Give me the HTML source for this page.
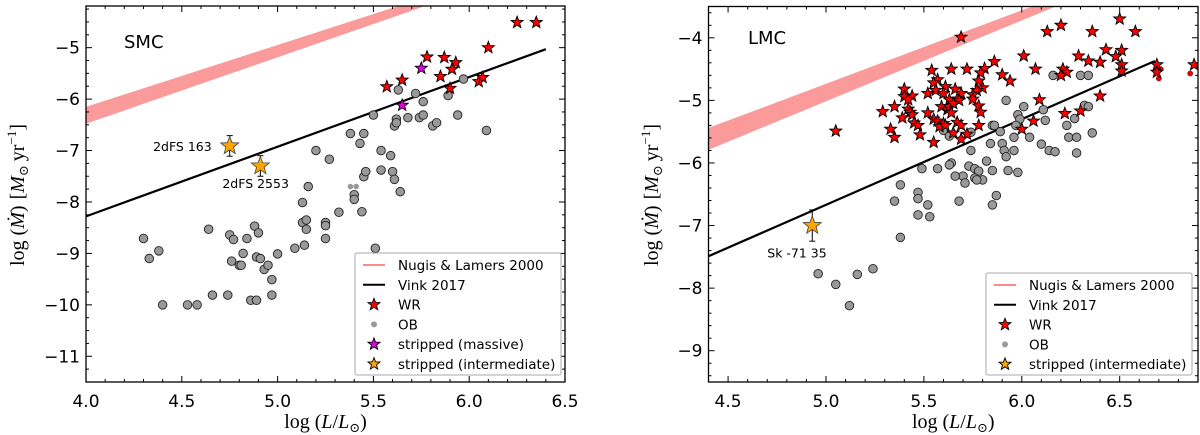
<!DOCTYPE html>
<html><head><meta charset="utf-8">
<style>
html,body{margin:0;padding:0;background:#fff;}
svg{display:block;}
text{font-family:"DejaVu Sans","Liberation Sans",sans-serif;}
.serif{font-family:"Liberation Serif","DejaVu Serif",serif;}
</style></head>
<body>
<svg id="chart" width="1200" height="435" viewBox="0 0 1200 435" xmlns="http://www.w3.org/2000/svg"></svg>
<script>
// ---- SMC data ----
const smcWR = [[6.25,-4.51],[6.35,-4.51],[6.10,-5.0],[5.78,-5.18],[5.87,-5.19],[5.93,-5.29],[5.91,-5.42],[5.85,-5.56],[5.65,-5.63],[5.57,-5.76],[5.90,-5.79],[6.05,-5.66],[6.07,-5.58]];
const smcMassive = [[5.75,-5.40],[5.65,-6.12]];
const smcInter = [[4.75,-6.91,0.2],[4.91,-7.30,0.2]];
const smcOB = [[4.30,-8.71],[4.33,-9.10],[4.38,-8.95],[4.40,-10.0],[4.53,-10.0],[4.58,-10.0],[4.64,-8.53],[4.66,-9.81],[4.74,-9.81],[4.75,-8.64],[4.77,-8.73],[4.76,-9.15],[4.80,-9.23],[4.81,-9.23],[4.82,-9.0],[4.84,-8.71],[4.86,-9.91],[4.88,-8.47],[4.89,-9.07],[4.89,-9.91],[4.90,-8.60],[4.91,-9.10],[4.93,-9.31],[4.95,-9.23],[4.97,-9.51],[4.97,-9.81],[5.0,-9.01],[5.09,-8.90],[5.13,-8.01],[5.13,-8.40],[5.15,-8.53],[5.15,-8.35],[5.14,-8.84],[5.16,-7.70],[5.20,-7.00],[5.25,-8.40],[5.25,-8.46],[5.25,-8.71],[5.27,-7.17],[5.32,-8.20],[5.38,-6.67],[5.40,-7.86],[5.40,-7.95],[5.43,-6.86],[5.44,-8.19],[5.45,-6.67],[5.45,-7.51],[5.46,-7.41],[5.50,-6.31],[5.51,-8.90],[5.54,-7.00],[5.54,-7.38],[5.59,-7.10],[5.60,-7.41],[5.61,-7.56],[5.61,-6.52],[5.62,-6.39],[5.62,-6.46],[5.63,-5.82],[5.64,-7.80],[5.68,-6.36],[5.72,-5.89],[5.74,-6.36],[5.76,-6.31],[5.76,-6.05],[5.81,-6.52],[5.83,-6.46],[5.89,-5.93],[5.94,-6.31],[5.97,-5.61],[6.09,-6.61]];
const smcOBsmall = [[5.38,-7.70],[5.41,-7.70]];
const smcVink = [[4.0,-8.28],[6.4,-5.03]];
const smcNugisTop = [[4.0,-6.15],[5.63,-4.19]];
const smcNugisBot = [[4.0,-6.48],[5.77,-4.19]];
const smcLabels = [["2dFS 163",4.75,-6.91],["2dFS 2553",4.91,-7.30]];
const smcXTicks = [4.0,4.5,5.0,5.5,6.0,6.5];
const smcYTicks = [-5,-6,-7,-8,-9,-10,-11];

// ---- LMC data ----
const lmcWR = [[5.05,-5.49],[5.69,-3.99],[6.13,-3.90],[6.20,-3.80],[6.36,-3.90],[6.50,-3.70],[6.58,-3.90],[6.01,-4.29],[6.29,-4.29],[6.43,-4.19],[6.51,-4.20],[6.48,-4.30],[6.51,-4.43],[6.34,-4.37],[6.40,-4.39],[6.07,-4.50],[6.21,-4.50],[6.23,-4.55],[6.20,-4.60],[6.51,-4.53],[6.69,-4.43],[6.69,-4.55],[6.88,-4.43],[6.40,-4.93],[6.09,-4.99],[6.22,-5.21],[6.30,-5.17],[6.06,-5.33],[6.00,-5.46],[5.94,-4.69],[5.90,-4.59],[5.86,-4.38],[5.81,-4.49],[5.79,-4.56],[5.80,-4.80],[5.78,-4.69],[5.77,-4.84],[5.75,-4.91],[5.75,-4.98],[5.78,-5.09],[5.79,-5.19],[5.78,-5.40],[5.72,-4.50],[5.64,-4.50],[5.54,-4.52],[5.57,-4.67],[5.55,-4.72],[5.61,-4.78],[5.66,-4.82],[5.56,-4.84],[5.60,-4.89],[5.69,-4.89],[5.63,-4.99],[5.67,-4.98],[5.68,-5.00],[5.52,-4.89],[5.44,-4.93],[5.40,-4.82],[5.40,-4.94],[5.42,-4.99],[5.35,-5.10],[5.29,-5.18],[5.42,-5.14],[5.43,-5.19],[5.44,-5.23],[5.52,-5.20],[5.39,-5.28],[5.45,-5.36],[5.47,-5.40],[5.55,-5.30],[5.57,-5.33],[5.60,-5.37],[5.58,-5.42],[5.59,-5.10],[5.62,-5.15],[5.63,-5.10],[5.65,-5.05],[5.64,-5.20],[5.67,-5.35],[5.69,-5.40],[5.65,-5.52],[5.72,-5.54],[5.69,-5.62],[5.55,-5.67],[5.48,-5.55],[5.35,-5.59],[5.33,-5.46],[5.61,-5.40]];
const lmcWRsmall = [[6.70,-4.65],[6.86,-4.57],[6.71,-4.50]];
const lmcInter = [[4.93,-7.0,0.25]];
const lmcOB = [[6.16,-4.60],[6.30,-4.60],[6.34,-4.60],[5.92,-5.00],[6.01,-5.10],[6.11,-5.15],[5.98,-5.23],[5.99,-5.30],[6.12,-5.32],[6.32,-5.08],[6.34,-5.10],[6.27,-5.29],[6.23,-5.40],[6.36,-5.52],[6.24,-5.59],[6.28,-5.59],[6.28,-5.84],[6.14,-5.80],[6.17,-5.82],[6.10,-5.70],[6.04,-5.59],[5.96,-5.59],[5.89,-5.50],[5.97,-5.40],[5.85,-5.40],[5.86,-5.40],[5.90,-5.69],[5.84,-5.69],[5.91,-5.80],[5.92,-5.90],[5.96,-5.80],[5.74,-5.80],[5.82,-5.97],[5.85,-6.12],[5.93,-6.12],[5.98,-6.15],[5.73,-6.05],[5.76,-6.09],[5.78,-6.13],[5.76,-6.24],[5.80,-6.27],[5.77,-6.27],[5.70,-6.21],[5.71,-6.32],[5.66,-6.21],[5.64,-6.00],[5.63,-6.03],[5.57,-6.09],[5.49,-6.09],[5.38,-6.35],[5.35,-6.61],[5.47,-6.47],[5.47,-6.57],[5.52,-6.67],[5.47,-6.83],[5.53,-6.86],[5.68,-6.61],[5.87,-6.52],[5.85,-6.67],[5.38,-7.19],[5.24,-7.69],[5.16,-7.78],[4.96,-7.77],[5.05,-7.94],[5.12,-8.28],[5.60,-5.48],[5.63,-5.57],[5.74,-5.51]];
const lmcVink = [[4.4,-7.49],[6.68,-4.37]];
const lmcNugisTop = [[4.4,-5.44],[6.06,-3.49]];
const lmcNugisBot = [[4.4,-5.79],[6.18,-3.49]];
const lmcLabels = [["Sk -71 35",4.93,-7.0]];
const lmcXTicks = [4.5,5.0,5.5,6.0,6.5];
const lmcYTicks = [-4,-5,-6,-7,-8,-9];

const NS = "http://www.w3.org/2000/svg";
const svg = document.getElementById('chart');
function mk(tag, attrs, parent){
  const e = document.createElementNS(NS, tag);
  for (const k in attrs) e.setAttribute(k, attrs[k]);
  (parent||svg).appendChild(e);
  return e;
}
function starPath(cx, cy, R){
  const r = R*0.42; let d = '';
  for (let i=0;i<10;i++){
    const a = -Math.PI/2 + i*Math.PI/5;
    const rr = i%2===0 ? R : r;
    d += (i===0?'M':'L') + (cx+rr*Math.cos(a)).toFixed(2) + ',' + (cy+rr*Math.sin(a)).toFixed(2);
  }
  return d + 'Z';
}

function panel(cfg){
  const g = mk('g', {});
  
  
  const {L,R,T,B,x0,x1,y0,y1} = cfg;
  const X = v => L + (v-x0)/(x1-x0)*(R-L);
  const Y = v => B - (v-y0)/(y1-y0)*(B-T);
  const clipId = 'clip-' + cfg.name;
  const defs = mk('defs', {}, g);
  const cp = mk('clipPath', {id: clipId}, defs);
  mk('rect', {x:L, y:T, width:R-L, height:B-T}, cp);
  const plot = mk('g', {'clip-path':'url(#'+clipId+')'}, g);

  const nt = cfg.nugisTop, nb = cfg.nugisBot;
  const ext = (p, xe) => { const s=(p[1][1]-p[0][1])/(p[1][0]-p[0][0]); return p[0][1]+s*(xe-p[0][0]); };
  const xe = x1 + 0.5;
  const band = mk('polygon', {points: [
    [X(x0-0.1), Y(ext(nt,x0-0.1))],[X(xe),Y(ext(nt,xe))],[X(xe),Y(ext(nb,xe))],[X(x0-0.1),Y(ext(nb,x0-0.1))]
  ].map(p=>p.join(',')).join(' '), fill:'#fb9a9a'}, plot);
  
  

  const vl = mk('line', {x1:X(cfg.vink[0][0]), y1:Y(cfg.vink[0][1]), x2:X(cfg.vink[1][0]), y2:Y(cfg.vink[1][1]), stroke:'#000', 'stroke-width':2.2}, plot);
  
  

  cfg.ob.forEach(p => {
    const c = mk('circle', {cx:X(p[0]), cy:Y(p[1]), r:4.3, fill:'#999', stroke:'#222', 'stroke-width':0.9}, plot);
    
    
  });
  (cfg.obSmall||[]).forEach(p => {
    const c = mk('circle', {cx:X(p[0]), cy:Y(p[1]), r:2.8, fill:'#999'}, plot);
    
    
  });
  (cfg.wrSmall||[]).forEach(p => {
    const c = mk('circle', {cx:X(p[0]), cy:Y(p[1]), r:2.6, fill:'#e00', stroke:'#600', 'stroke-width':0.5}, plot);
    
    
  });
  cfg.wr.forEach(p => {
    const s = mk('path', {d:starPath(X(p[0]),Y(p[1]),6.3), fill:'#f00', stroke:'#000', 'stroke-width':0.9}, plot);
    
    
  });
  (cfg.massive||[]).forEach(p => {
    const s = mk('path', {d:starPath(X(p[0]),Y(p[1]),6.3), fill:'#e000e0', stroke:'#000', 'stroke-width':0.9}, plot);
    
    
  });
  cfg.inter.forEach(p => {
    const eb = mk('line', {x1:X(p[0]), x2:X(p[0]), y1:Y(p[1]+p[2]), y2:Y(p[1]-p[2]), stroke:'#000', 'stroke-width':1}, plot);
    
    
    mk('line', {x1:X(p[0])-3, x2:X(p[0])+3, y1:Y(p[1]+p[2]), y2:Y(p[1]+p[2]), stroke:'#000'}, plot);
    mk('line', {x1:X(p[0])-3, x2:X(p[0])+3, y1:Y(p[1]-p[2]), y2:Y(p[1]-p[2]), stroke:'#000'}, plot);
    const s = mk('path', {d:starPath(X(p[0]),Y(p[1]),9.5), fill:'#ffa500', stroke:'#444', 'stroke-width':0.8}, plot);
    
    
  });
  cfg.labels.forEach((l,i) => {
    const o = cfg.labelOff[i];
    const t = mk('text', {x:X(l[1])+o[0], y:Y(l[2])+o[1], 'font-size':12.5, 'text-anchor':o[2]}, g);
    t.textContent = l[0];
    
    
  });

  const fr = mk('rect', {x:L, y:T, width:R-L, height:B-T, fill:'none', stroke:'#000', 'stroke-width':1.3}, g);
  
  

  const tk = mk('g', {stroke:'#000', 'stroke-width':1}, g);
  for (let v = Math.ceil(x0*10-1e-6)/10; v <= x1+1e-6; v = Math.round((v+0.1)*10)/10){
    const major = Math.abs(v*2 - Math.round(v*2)) < 1e-6;
    const len = major ? 6 : 3;
    mk('line', {x1:X(v), x2:X(v), y1:B, y2:B-len}, tk);
    mk('line', {x1:X(v), x2:X(v), y1:T, y2:T+len}, tk);
  }
  const ms = cfg.yMinor;
  for (let v = Math.ceil(y0/ms-1e-6)*ms; v <= y1+1e-6; v += ms){
    const vv = Math.round(v*100)/100;
    const major = Math.abs(vv - Math.round(vv)) < 1e-6;
    const len = major ? 6 : 3;
    mk('line', {x1:L, x2:L+len, y1:Y(vv), y2:Y(vv)}, tk);
    mk('line', {x1:R, x2:R-len, y1:Y(vv), y2:Y(vv)}, tk);
  }
  cfg.xTicks.forEach(v => {
    const t = mk('text', {x:X(v), y:B+25, 'font-size':17, 'text-anchor':'middle'}, g);
    t.textContent = v.toFixed(1);
    
    
  });
  cfg.yTicks.forEach(v => {
    const t = mk('text', {x:L-6, y:Y(v)+6, 'font-size':17, 'text-anchor':'end'}, g);
    t.textContent = '\u2212' + Math.abs(v);
    
    
  });

  const xt = mk('text', {x:(L+R)/2, y:428, 'font-size':20, 'text-anchor':'middle', class:'serif'}, g);
  xt.innerHTML = 'log<tspan dx="5">(</tspan><tspan font-style="italic">L</tspan>/<tspan font-style="italic">L</tspan><tspan font-size="13" dy="4">\u2299</tspan><tspan dy="-4">)</tspan>';
  
  
  const yt = mk('text', {x:0, y:0, 'font-size':20, 'text-anchor':'middle', class:'serif', transform:'translate('+cfg.ylx+',195) rotate(-90)'}, g);
  yt.innerHTML = 'log<tspan dx="5">(</tspan><tspan font-style="italic">Ṁ</tspan>)<tspan dx="6">[</tspan><tspan font-style="italic">M</tspan><tspan font-size="13" dy="4">\u2299</tspan><tspan dy="-4" dx="4">yr</tspan><tspan font-size="13" dy="-8">\u22121</tspan><tspan dy="8">]</tspan>';
  
  

  const rl = mk('text', {x:cfg.regX, y:cfg.regY, 'font-size':18}, g);
  rl.textContent = cfg.region;
  
  

  const lg = mk('g', {}, g);
  
  
  const lb = cfg.legBox;
  mk('rect', {x:lb[0], y:lb[1], width:lb[2], height:lb[3], fill:'#fff', stroke:'#aaa', 'stroke-width':1, rx:2}, lg);
  cfg.legItems.forEach((it, i) => {
    const yy = lb[1] + 12 + i*19.8;
    const mx = lb[0] + 19;
    if (it[0]==='line') mk('line', {x1:mx-11, x2:mx+11, y1:yy, y2:yy, stroke:it[1], 'stroke-width':2}, lg);
    else if (it[0]==='star') mk('path', {d:starPath(mx,yy,6.3), fill:it[1], stroke:'#000', 'stroke-width':0.9}, lg);
    else mk('circle', {cx:mx, cy:yy, r:3, fill:'#999'}, lg);
    const t = mk('text', {x:lb[0]+43, y:yy+5, 'font-size':13.5}, lg);
    t.textContent = it[2];
    
    
  });
}

panel({name:'smc', L:86, R:565, T:6, B:382, x0:4.0, x1:6.5, y0:-11.5, y1:-4.19, yMinor:0.25,
  wr:smcWR, massive:smcMassive, inter:smcInter, ob:smcOB, obSmall:smcOBsmall,
  vink:smcVink, nugisTop:smcNugisTop, nugisBot:smcNugisBot,
  labels:smcLabels, labelOff:[[-18,5,'end'],[-38,22,'start']],
  xTicks:smcXTicks, yTicks:smcYTicks, ylx:24, region:'SMC', regX:124, regY:48,
  legBox:[355,253,206,122],
  legItems:[['line','#fb8a8a','Nugis & Lamers 2000'],['line','#000','Vink 2017'],['star','#f00','WR'],['circle','#999','OB'],['star','#e000e0','stripped (massive)'],['star','#ffa500','stripped (intermediate)']]
});
panel({name:'lmc', L:708.5, R:1198, T:6.5, B:382, x0:4.4, x1:6.9, y0:-9.5, y1:-3.5, yMinor:0.2,
  wr:lmcWR, wrSmall:lmcWRsmall, inter:lmcInter, ob:lmcOB,
  vink:lmcVink, nugisTop:lmcNugisTop, nugisBot:lmcNugisBot,
  labels:lmcLabels, labelOff:[[-45,32,'start']],
  xTicks:lmcXTicks, yTicks:lmcYTicks, ylx:658, region:'LMC', regX:748, regY:44,
  legBox:[986,273,206,102],
  legItems:[['line','#fb8a8a','Nugis & Lamers 2000'],['line','#000','Vink 2017'],['star','#f00','WR'],['circle','#999','OB'],['star','#ffa500','stripped (intermediate)']]
});
</script>
</body></html>
